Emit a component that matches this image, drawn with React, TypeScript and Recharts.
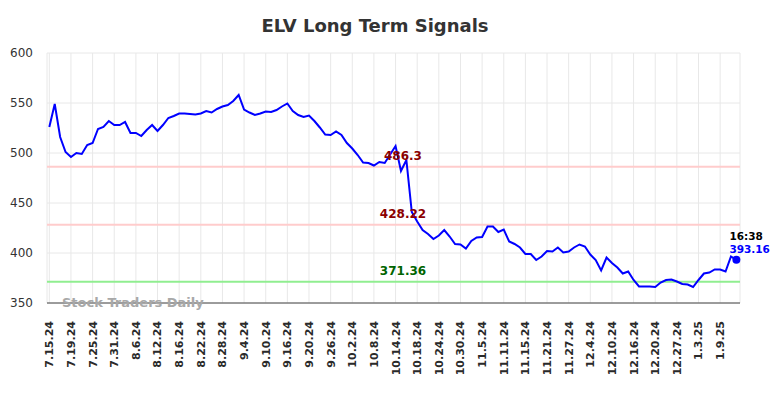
import React from 'react'
import {
  LineChart,
  Line,
  XAxis,
  YAxis,
  CartesianGrid,
  ReferenceLine,
  ReferenceDot
} from 'recharts'

// closing prices, one per trading day
const prices = [
  526, 549, 516, 501, 496, 500, 499, 508, 510, 524,
  526, 532, 528, 528, 531, 520, 520, 517, 523, 528,
  522, 528, 535, 537, 539.5, 539.5, 539, 538.5, 539.5, 542,
  540.5, 544, 546.5, 548, 552, 558, 543.5, 540.5, 538, 539.5,
  541.5, 541, 543, 546.5, 549.5, 542, 538, 536, 537.5, 532,
  525.5, 518.5, 518, 521.5, 518, 510, 504.5, 498, 490.5, 490,
  487.5, 491, 490, 498.5, 507, 482, 493, 441, 431.5, 423,
  419, 414, 417.5, 423, 416.5, 409, 408.5, 404.5, 412, 415.5,
  416, 426.5, 426.5, 421, 423.5, 411.5, 409, 405.5, 399, 399,
  393, 396.5, 402, 401.5, 405.5, 400.5, 401.5, 405.5, 408.5, 406.5,
  398.5, 393, 382.5, 395.5, 390, 385.5, 379.5, 381.5, 373, 366.5,
  366.5, 366.5, 366, 370.5, 373, 373.5, 371.5, 369, 368.5, 366,
  373, 379.5, 380.5, 383.5, 383.5, 381.5, 396.5, 393.16
]

// one label every 4 trading days
const dateLabels = [
  '7.15.24', '7.19.24', '7.25.24', '7.31.24', '8.6.24', '8.12.24', '8.16.24', '8.22.24',
  '8.28.24', '9.4.24', '9.10.24', '9.16.24', '9.20.24', '9.26.24', '10.2.24', '10.8.24',
  '10.14.24', '10.18.24', '10.24.24', '10.30.24', '11.5.24', '11.11.24', '11.15.24', '11.21.24',
  '11.27.24', '12.4.24', '12.10.24', '12.16.24', '12.20.24', '12.27.24', '1.3.25', '1.9.25'
]

const signals = [
  { value: 486.3, label: '486.3', line: '#ffcccc', text: '#8b0000' },
  { value: 428.22, label: '428.22', line: '#ffcccc', text: '#8b0000' },
  { value: 371.36, label: '371.36', line: '#90ee90', text: '#006400' }
]

const yTicks = [350, 400, 450, 500, 550, 600]
const lastTime = '16:38'

const FONT = '"DejaVu Sans", sans-serif'

const data = prices.map((v, i) => ({ i, v }))
const xTicks = dateLabels.map((_, k) => k * 4)
const lastIndex = prices.length - 1
const lastPrice = prices[lastIndex]

function DateTick({ x, y, payload }: any) {
  const label = dateLabels[Math.round(payload.value / 4)]
  return (
    <text
      x={0}
      y={0}
      dy="0.36em"
      transform={`translate(${x},${y}) rotate(-90)`}
      textAnchor="end"
      fontFamily={FONT}
      fontWeight="bold"
      fontSize={11}
      fill="#2a2a2a"
    >
      {label}
    </text>
  )
}

function SignalLabel({ viewBox, text, color }: any) {
  const x = viewBox.x + viewBox.width * 0.5137
  return (
    <text
      x={x}
      y={viewBox.y - 7}
      textAnchor="middle"
      fontFamily={FONT}
      fontWeight="bold"
      fontSize={12}
      fill={color}
    >
      {text}
    </text>
  )
}

function LastLabel({ viewBox }: any) {
  const cx = viewBox.x + viewBox.width / 2
  const cy = viewBox.y + viewBox.height / 2
  return (
    <g fontFamily={FONT} fontWeight="bold" fontSize={10.5}>
      <text x={cx - 7} y={cy - 20} fill="#000">{lastTime}</text>
      <text x={cx - 7} y={cy - 7} fill="#0000ff">{lastPrice.toFixed(2)}</text>
    </g>
  )
}

export default function App() {
  return (
    <div style={{ position: 'absolute', left: 0, top: 0, width: 784, height: 398, background: '#fff' }}>
      <LineChart
        width={784}
        height={398}
        data={data}
        margin={{ top: 53, right: 44, bottom: 0, left: 0 }}
      >
        <CartesianGrid stroke="#e8e8e8" strokeWidth={1} />
        <XAxis
          dataKey="i"
          type="number"
          domain={[-0.43, 127.67]}
          allowDataOverflow
          ticks={xTicks}
          interval={0}
          height={95}
          tickLine={false}
          tickSize={0}
          tickMargin={18}
          axisLine={{ stroke: '#444', strokeWidth: 1 }}
          tick={<DateTick />}
        />
        <YAxis
          type="number"
          domain={[350, 600]}
          ticks={yTicks}
          width={47}
          axisLine={false}
          tickLine={false}
          tickSize={0}
          tickMargin={14}
          tick={{ fontFamily: FONT, fontSize: 12, fill: '#333' }}
        />
        {signals.map((s) => (
          <ReferenceLine key={s.label} y={s.value} stroke={s.line} strokeWidth={2} />
        ))}
        <Line
          type="linear"
          dataKey="v"
          stroke="#0000ff"
          strokeWidth={2}
          dot={false}
          isAnimationActive={false}
        />
        {/* labels drawn after the series so they sit on top of it */}
        {signals.map((s) => (
          <ReferenceLine
            key={`label-${s.label}`}
            y={s.value}
            stroke="none"
            strokeOpacity={0}
            label={<SignalLabel text={s.label} color={s.text} />}
          />
        ))}
        <ReferenceDot
          x={lastIndex}
          y={lastPrice}
          r={4}
          fill="#0000ff"
          stroke="none"
          label={<LastLabel />}
        />
      </LineChart>
      <div
        style={{
          position: 'absolute',
          left: 0,
          top: 15,
          width: 750,
          textAlign: 'center',
          fontFamily: FONT,
          fontWeight: 'bold',
          fontSize: 18,
          lineHeight: '22px',
          color: '#333'
        }}
      >
        ELV Long Term Signals
      </div>
      <div
        style={{
          position: 'absolute',
          left: 62,
          top: 295,
          fontFamily: FONT,
          fontWeight: 'bold',
          fontSize: 13,
          lineHeight: '16px',
          color: '#a8a8a8',
          whiteSpace: 'nowrap'
        }}
      >
        Stock Traders Daily
      </div>
    </div>
  )
}
